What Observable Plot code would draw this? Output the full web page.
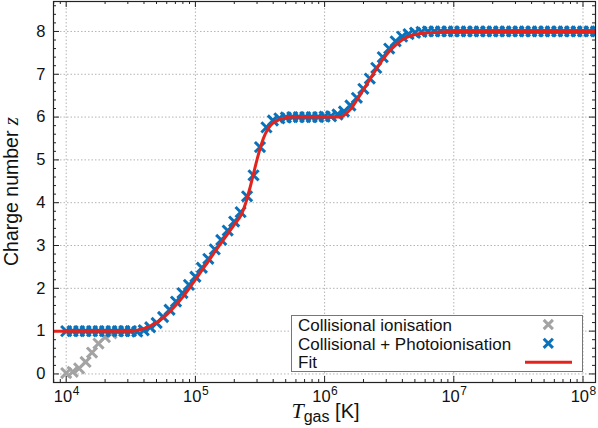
<!DOCTYPE html>
<html><head><meta charset="utf-8">
<script src="https://cdn.jsdelivr.net/npm/d3@7"></script>
<script src="https://cdn.jsdelivr.net/npm/@observablehq/plot@0.6"></script>
<style>body{margin:0;background:#fff;} svg{display:block}</style>
</head><body><div id="chart"></div>
<script>
// ---- data ----
const logTCollPhoto = [
  4.00,4.05,4.10,4.15,4.20,4.25,4.30,4.35,4.40,4.45,
  4.50,4.55,4.60,4.65,4.70,4.75,4.80,4.85,4.90,4.95,
  5.00,5.05,5.10,5.15,5.20,5.25,5.30,5.35,5.40,5.45,
  5.50,5.55,5.60,5.65,5.70,5.75,5.80,5.85,5.90,5.95,
  6.00,6.05,6.10,6.15,6.20,6.25,6.30,6.35,6.40,6.45,
  6.50,6.55,6.60,6.65,6.70,6.75,6.80,6.85,6.90,6.95,
  7.00,7.05,7.10,7.15,7.20,7.25,7.30,7.35,7.40,7.45,
  7.50,7.55,7.60,7.65,7.70,7.75,7.80,7.85,7.90,7.95,
  8.00,8.05,8.10];
const zCollPhoto = [
  1,1,1,1,1,1,1,1,1,1,
  1.00,0.99,1.02,1.09,1.19,1.33,1.50,1.69,1.89,2.08,
  2.27,2.48,2.69,2.91,3.13,3.35,3.56,3.78,4.15,4.64,
  5.30,5.76,5.92,5.97,5.99,6,6,6,6,6,
  6.01,6.02,6.06,6.13,6.27,6.45,6.66,6.90,7.15,7.40,
  7.60,7.77,7.88,7.94,7.97,7.99,8,8,8,8,
  8,8,8,8,8,8,8,8,8,8,
  8,8,8,8,8,8,8,8,8,8,
  8,8,8];
const logTColl = [4.00,4.05,4.10,4.15,4.20,4.25,4.30,4.35,4.40,4.45,4.50];
const zColl    = [0.02,0.05,0.13,0.28,0.50,0.71,0.86,0.95,0.99,1.00,1.00];
const logTFit = [3.90,4.50,4.55,4.60,4.65,4.70,4.75,4.80,4.85,4.90,4.95,5.00,5.05,5.10,5.15,5.20,5.25,5.30,
  5.36,5.39,5.42,5.45,5.48,5.51,5.54,5.57,5.60,5.64,5.68,5.75,
  6.13,6.16,6.20,6.25,6.30,6.35,6.40,6.45,6.50,6.55,6.60,6.65,6.70,6.80,6.90,7.00,8.10];
const zFit = [1.00,1.00,1.02,1.06,1.12,1.20,1.31,1.45,1.61,1.79,1.99,2.20,2.42,2.63,2.85,3.06,3.27,3.48,
  3.75,4.00,4.32,4.68,5.04,5.36,5.60,5.76,5.86,5.93,5.97,6.00,
  6.00,6.07,6.18,6.40,6.64,6.88,7.12,7.34,7.53,7.68,7.80,7.88,7.93,7.97,7.99,8.00,8.00];
const xTickExponents = [4,5,6,7,8];
const yTicks = [0,1,2,3,4,5,6,7,8];
const seriesNames = ["Collisional ionisation","Collisional + Photoionisation","Fit"];
const seriesColors = ["#a3a3a3","#0a72ba","#e4231c"];

// ---- build tables ----
const collPhoto = logTCollPhoto.map((v,i)=>({T:10**v, z:zCollPhoto[i]}));
const coll = logTColl.map((v,i)=>({T:10**v, z:zColl[i]}));
const fit = logTFit.map((v,i)=>({T:10**v, z:zFit[i]}));

const W=598, H=428, mL=53, mR=3, mT=1, mB=46;
const plotW=W-mL-mR, plotH=H-mT-mB;
const xDomain=[10**3.9017, 10**8.0968];
const yDomain=[-0.2, 8.7];
const xMajor = xTickExponents.map(e=>10**e);
const xMinor = [];
for (const e of [3,...xTickExponents]) for (let k=2;k<=9;k++){const v=k*10**e; if(v>xDomain[0]&&v<xDomain[1]) xMinor.push(v);}
const yMinor = [];
for (const t of [-1,...yTicks]) for (let k=1;k<=4;k++){const v=+(t+k*0.2).toFixed(2); if(v>yDomain[0]&&v<yDomain[1]) yMinor.push(v);}

const axisColor="#222";
const tickLen=6, minorLen=3;
const dotR=4.7, dotW=3;

const chart = Plot.plot({
  width:W, height:H,
  marginLeft:mL, marginRight:mR, marginTop:mT, marginBottom:mB,
  style:{fontFamily:"'Liberation Sans', Arial, sans-serif", background:"#fff", color:"#111"},
  x:{type:"log", domain:xDomain, axis:null},
  y:{domain:yDomain, axis:null},
  marks:[
    Plot.gridX(xMajor,{x:d=>d, stroke:"#b4b4b4", strokeOpacity:1, strokeDasharray:"1.5,2"}),
    Plot.gridY(yTicks,{y:d=>d, stroke:"#b4b4b4", strokeOpacity:1, strokeDasharray:"1.5,2"}),
    // ticks (inward, mirrored)
    Plot.ruleX(xMajor,{x:d=>d, insetTop:plotH-tickLen, stroke:axisColor}),
    Plot.ruleX(xMajor,{x:d=>d, insetBottom:plotH-tickLen, stroke:axisColor}),
    Plot.ruleX(xMinor,{x:d=>d, insetTop:plotH-minorLen, stroke:axisColor}),
    Plot.ruleX(xMinor,{x:d=>d, insetBottom:plotH-minorLen, stroke:axisColor}),
    Plot.ruleY(yTicks,{y:d=>d, insetRight:plotW-tickLen, stroke:axisColor}),
    Plot.ruleY(yTicks,{y:d=>d, insetLeft:plotW-tickLen, stroke:axisColor}),
    Plot.ruleY(yMinor,{y:d=>d, insetRight:plotW-minorLen, stroke:axisColor}),
    Plot.ruleY(yMinor,{y:d=>d, insetLeft:plotW-minorLen, stroke:axisColor}),
    // data
    Plot.dot(coll,{x:"T", y:"z", symbol:"times", r:dotR, stroke:seriesColors[0], strokeWidth:dotW, clip:true}),
    Plot.dot(collPhoto,{x:"T", y:"z", symbol:"times", r:dotR, stroke:seriesColors[1], strokeWidth:dotW, clip:true}),
    Plot.line(fit,{x:"T", y:"z", stroke:seriesColors[2], strokeWidth:3, curve:"monotone-x", clip:true, strokeLinejoin:"round"}),
    Plot.frame({stroke:axisColor, strokeWidth:1.2}),
    // y tick labels
    Plot.axisY(yTicks,{tickSize:0, tickPadding:8, fontSize:16.5, label:null}),
    // x tick labels 10^n
    Plot.text(xTickExponents,{x:e=>10**e, frameAnchor:"bottom", text:()=>"10", textAnchor:"end", dx:6, dy:19.5, lineAnchor:"bottom", fontSize:16.5}),
    Plot.text(xTickExponents,{x:e=>10**e, frameAnchor:"bottom", text:e=>String(e), textAnchor:"start", dx:6.5, dy:12.5, lineAnchor:"bottom", fontSize:12})
  ]
});
document.getElementById("chart").appendChild(chart);

// ---- axis labels and legend ----
const svg = d3.select(chart);
const mathFont = "'Liberation Serif', 'Times New Roman', serif";
const yl = svg.append("text").attr("transform",`translate(17.5,${mT+plotH/2}) rotate(-90)`)
  .attr("text-anchor","middle").attr("font-size",19.5).attr("fill","#111");
yl.append("tspan").text("Charge number ");
yl.append("tspan").attr("font-family",mathFont).attr("font-style","italic").attr("font-size",21).text("z");

const xl = svg.append("text").attr("x",mL+plotW/2+1.5).attr("y",417.5).attr("text-anchor","middle").attr("font-size",20).attr("fill","#111");
xl.append("tspan").attr("font-family",mathFont).attr("font-style","italic").attr("font-size",22).text("T");
xl.append("tspan").attr("font-size",16).attr("dy",4).text("gas");
xl.append("tspan").attr("dy",-4).text(" [K]");

const lg = svg.append("g").attr("text-anchor","start");
lg.append("rect").attr("x",291.5).attr("y",315.5).attr("width",291).attr("height",56)
  .attr("fill","#fff").attr("stroke","#777").attr("stroke-width",1);
const rowY=[330.8,349.5,368.2];
seriesNames.forEach((name,i)=>{
  lg.append("text").attr("x",298).attr("y",rowY[i]).attr("text-anchor","start").attr("font-size",17).attr("fill","#111").text(name);
});
const cross=(cx,cy,c)=>{const r=4.6;lg.append("path").attr("d",`M${cx-r},${cy-r}L${cx+r},${cy+r}M${cx-r},${cy+r}L${cx+r},${cy-r}`).attr("stroke",c).attr("stroke-width",dotW).attr("fill","none");};
cross(548.3,324.5,seriesColors[0]);
cross(548.3,343.3,seriesColors[1]);
lg.append("line").attr("x1",525).attr("x2",572).attr("y1",362.3).attr("y2",362.3).attr("stroke",seriesColors[2]).attr("stroke-width",3);
</script></body></html>
